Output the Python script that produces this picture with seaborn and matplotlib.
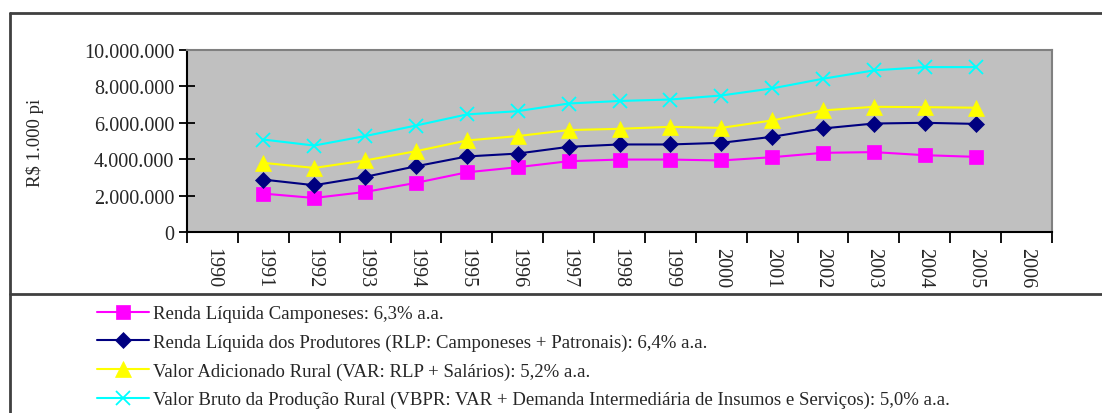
import numpy as np
import pandas as pd
import matplotlib
matplotlib.use("Agg")
import matplotlib.pyplot as plt
import matplotlib.ticker as mticker
from matplotlib.lines import Line2D
import seaborn as sns

# Data (R$ 1.000)
years = list(range(1991, 2006))
camponeses = [2110000, 1870000, 2200000, 2700000, 3280000, 3560000, 3890000, 3980000,
              3980000, 3930000, 4110000, 4350000, 4390000, 4220000, 4130000]
rlp = [2880000, 2570000, 3030000, 3610000, 4150000, 4310000, 4680000, 4810000,
       4810000, 4900000, 5230000, 5690000, 5960000, 6000000, 5940000]
var = [3800000, 3520000, 3930000, 4440000, 5030000, 5270000, 5600000, 5670000,
       5780000, 5720000, 6130000, 6680000, 6880000, 6860000, 6830000]
vbpr = [5080000, 4750000, 5270000, 5850000, 6460000, 6640000, 7060000, 7200000,
        7280000, 7500000, 7890000, 8420000, 8880000, 9060000, 9060000]

tick_years = list(range(1990, 2007))
labels = [
    "Renda Líquida Camponeses: 6,3% a.a.",
    "Renda Líquida dos Produtores (RLP: Camponeses + Patronais): 6,4% a.a.",
    "Valor Adicionado Rural (VAR: RLP + Salários): 5,2% a.a.",
    "Valor Bruto da Produção Rural (VBPR: VAR + Demanda Intermediária de Insumos e Serviços): 5,0% a.a.",
]

sns.set_theme(style="white")
plt.rcParams['font.family'] = ['Liberation Serif', 'DejaVu Serif']

W, H = 1102, 414
fig = plt.figure(figsize=(W / 100, H / 100), dpi=100)
ax = fig.add_axes([187 / W, 1 - 233 / H, (1052 - 187) / W, (233 - 51) / H])
ax.set_facecolor("#c0c0c0")

styles = [
    (camponeses, "#ff00ff", "s", 10, 1.5),
    (rlp, "#000080", "D", 8, 1.5),
    (var, "#ffff00", "^", 11, 1.5),
    (vbpr, "#00ffff", "x", 10, 1.5),
]
for (vals, col, mk, ms, lw), lab in zip(styles, labels):
    sns.lineplot(x=years, y=vals, ax=ax, color=col, marker=mk, markersize=ms,
                 markeredgecolor=col, markeredgewidth=1.3 if mk == "x" else 0.5,
                 linewidth=lw, label=lab)

ax.set_xlim(1989.5, 2006.5)
ax.set_ylim(0, 10000000)
ax.yaxis.set_major_locator(mticker.MultipleLocator(2000000))
ax.yaxis.set_major_formatter(mticker.FuncFormatter(lambda v, p: f"{v:,.0f}".replace(",", ".")))

# ticks at category boundaries, year labels centred between them
ax.xaxis.set_major_locator(mticker.FixedLocator(np.arange(1989.5, 2007, 1)))
ax.xaxis.set_major_formatter(mticker.NullFormatter())
ax.xaxis.set_minor_locator(mticker.FixedLocator(tick_years))
ax.xaxis.set_minor_formatter(mticker.FixedFormatter([str(y) for y in tick_years]))
ax.tick_params(axis="x", which="major", direction="out", length=8, width=1.3, color="black", bottom=True)
ax.tick_params(axis="x", which="minor", length=0, labelsize=14.5, labelrotation=-90, pad=11, bottom=True)
ax.tick_params(axis="y", which="major", direction="inout", length=12, width=1.3, color="black",
               left=True, labelsize=14.5, pad=3)

for s in ["left", "bottom"]:
    ax.spines[s].set_color("black")
    ax.spines[s].set_linewidth(1.5)
for s in ["top", "right"]:
    ax.spines[s].set_color("#808080")
    ax.spines[s].set_linewidth(1.5)
ax.set_xlabel("")
ax.set_ylabel("")

fig.text(35 / W, 1 - 143 / H, "R$ 1.000 pi", rotation=90, ha="center", va="center", fontsize=13.5)

handles, labs = ax.get_legend_handles_labels()
ax.get_legend().remove()
fig.legend(handles, labs, loc="upper left", bbox_to_anchor=(88 / W, 1 - 297 / H), frameon=False,
           fontsize=13.5, handlelength=2.75, handletextpad=0.2, labelspacing=0.6, borderpad=0)

# outer frame lines as in the source
frame_col = "#404040"
fig.add_artist(Line2D([10 / W, 1.0], [1 - 14 / H, 1 - 14 / H], color=frame_col, lw=2))
fig.add_artist(Line2D([10 / W, 10 / W], [0, 1 - 14 / H], color=frame_col, lw=2))
fig.add_artist(Line2D([10 / W, 1.0], [1 - 295 / H, 1 - 295 / H], color=frame_col, lw=2))

fig.savefig("out.png", dpi=100)
